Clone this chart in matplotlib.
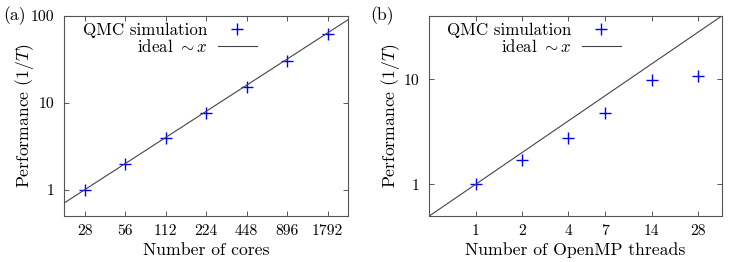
import numpy as np
import matplotlib
matplotlib.use("Agg")
from matplotlib import pyplot as plt

# panel (a): strong scaling over cores
cores = [28, 56, 112, 224, 448, 896, 1792]
perf_cores = [1.0, 1.97, 3.93, 7.75, 15.4, 30.4, 61.6]

# panel (b): OpenMP threads
threads = [1, 2, 4, 7, 14, 28]
perf_threads = [1.0, 1.7, 2.76, 4.79, 9.8, 10.7]

plt.rcParams['font.family'] = 'cmr10'
plt.rcParams['mathtext.fontset'] = 'cm'
plt.rcParams['axes.formatter.use_mathtext'] = True
plt.rcParams['axes.unicode_minus'] = False

fig = plt.figure(figsize=(7.47, 2.62), dpi=100)
ax_a = fig.add_axes([64.3 / 747, 1 - 216 / 262, (348 - 64.3) / 747, 200 / 262])
ax_b = fig.add_axes([429.3 / 747, 1 - 216 / 262, (721.7 - 429.3) / 747, 200 / 262])

edge = '#555555'
blue = '#0000ff'


def style(ax, xvals, yticks, ylabels, ypad):
    ax.set_xscale('log')
    ax.set_yscale('log')
    ax.minorticks_off()
    ax.set_xticks(xvals)
    ax.set_xticklabels([str(v) for v in xvals])
    ax.set_yticks(yticks)
    ax.set_yticklabels(ylabels)
    ax.tick_params(direction='in', length=3.5, width=0.7, color=edge,
                   top=True, right=True, labelsize=11.3, pad=6)
    ax.tick_params(axis='y', pad=7)
    for s in ax.spines.values():
        s.set_color(edge)
        s.set_linewidth(0.8)
    ax.set_ylabel(r'Performance $(1/T)$', fontsize=12.7, labelpad=ypad)


# (a)
xa = np.array([28 / np.sqrt(2), 1792 * np.sqrt(2)])
ax_a.plot(cores, perf_cores, '+', color=blue, markersize=9, mew=1.0,
          label='QMC simulation')
ax_a.plot(xa, xa / 28, '-', color='#444444', lw=0.8, label=r'ideal $\sim x$')
ax_a.set_xlim(xa)
ax_a.set_ylim(0.5, 100)
style(ax_a, cores, [1, 10, 100], ['1', '10', '100'], -3.5)
ax_a.set_xlabel('Number of cores', fontsize=12.7, labelpad=3)

# (b)
xb = np.array([0.5, 40])
ax_b.plot(threads, perf_threads, '+', color=blue, markersize=9, mew=1.0,
          label='QMC simulation')
ax_b.plot(xb, xb, '-', color='#444444', lw=0.8, label=r'ideal $\sim x$')
ax_b.set_xlim(xb)
ax_b.set_ylim(0.5, 40)
style(ax_b, threads, [1, 10], ['1', '10'], 1)
ax_b.set_xlabel('Number of OpenMP threads', fontsize=12.7, labelpad=3)

for ax, xr in ((ax_a, 0.697), (ax_b, 0.672)):
    ax.legend(loc='upper right', bbox_to_anchor=(xr, 0.99), markerfirst=False,
              frameon=False, fontsize=12.2, handlelength=2.3, handletextpad=0.6,
              labelspacing=0.0, borderpad=0.3, borderaxespad=0)

fig.text(3 / 747, 1 - 16 / 262, '(a)', fontsize=12.7, va='center', ha='left')
fig.text(370 / 747, 1 - 16 / 262, '(b)', fontsize=12.7, va='center', ha='left')

fig.savefig('out.png', dpi=100)
